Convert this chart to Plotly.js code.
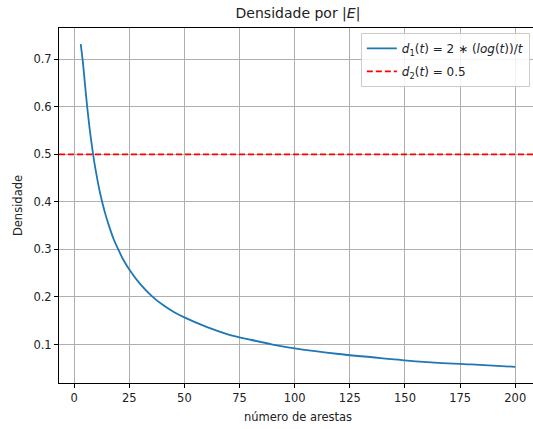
<!DOCTYPE html>
<html><head><meta charset="utf-8">
<script src="https://cdn.plot.ly/plotly-3.0.1.min.js"></script>
<style>html,body{margin:0;background:#fff;overflow:hidden}</style>
</head><body><div id="plot" style="width:540px;height:429px"></div>
<script>
const tValues = [3,4,5,6,7,8,9,10,11,12,14,16,18,20,22,25,30,35,40,45,50,60,70,80,90,100,120,140,160,180,200];
const d1Values = [0.732,0.693,0.644,0.597,0.556,0.520,0.488,0.461,0.436,0.414,0.377,0.347,0.321,0.300,0.281,0.258,0.227,0.203,0.184,0.169,0.157,0.137,0.121,0.110,0.100,0.092,0.080,0.071,0.063,0.058,0.053];
const d2Value = 0.5;
const xRange = [-6.85, 209.85];
const yRange = [0.019, 0.766];
const xTicks = [0,25,50,75,100,125,150,175,200];
const yTicks = [0.1,0.2,0.3,0.4,0.5,0.6,0.7];

const traces = [
  {x: tValues, y: d1Values, mode: 'lines', line: {color: '#1f77b4', width: 1.8, shape: 'spline', smoothing: 0.6}, legendgroup: 'a',
   name: '<i>d</i><sub>1</sub>(<i>t</i>) = 2 ∗ (<i>log</i>(<i>t</i>))/<i>t</i>'},
  {x: xRange, y: [d2Value, d2Value], mode: 'lines', line: {color: 'red', width: 1.8, dash: '6px,3px'}, legendgroup: 'b',
   name: '<i>d</i><sub>2</sub>(<i>t</i>) = 0.5'}
];
const axisCommon = {showline: true, mirror: true, linecolor: 'black', linewidth: 1, ticks: 'outside', ticklen: 4,
  tickcolor: 'black', showgrid: true, gridcolor: '#b0b0b0', gridwidth: 1, zeroline: false,
  tickfont: {size: 11.5, color: '#222'}};
const layout = {
  width: 540, height: 429,
  margin: {l: 59, r: 3, t: 28, b: 46},
  font: {family: 'DejaVu Sans', color: '#222'},
  paper_bgcolor: 'white', plot_bgcolor: 'white',
  title: {text: 'Densidade por |<i>E</i>|', font: {size: 14}, xref: 'paper', x: 0.5, xanchor: 'center', y: 0.98, yanchor: 'top'},
  xaxis: Object.assign({}, axisCommon, {range: xRange, tickvals: xTicks,
    title: {text: 'número de arestas', font: {size: 11.5}, standoff: 9}}),
  yaxis: Object.assign({}, axisCommon, {range: yRange, tickvals: yTicks, ticktext: yTicks.map(v => v.toFixed(1)),
    title: {text: 'Densidade', font: {size: 11.5}, standoff: 8}}),
  showlegend: true,
  legend: {x: 0.985, y: 0.986, xanchor: 'right', yanchor: 'top', bgcolor: 'rgba(255,255,255,0.85)',
    bordercolor: '#cccccc', borderwidth: 1, font: {size: 12}, traceorder: 'grouped', tracegroupgap: 4}
};
Plotly.newPlot('plot', traces, layout, {displayModeBar: false, staticPlot: true});
</script></body></html>
